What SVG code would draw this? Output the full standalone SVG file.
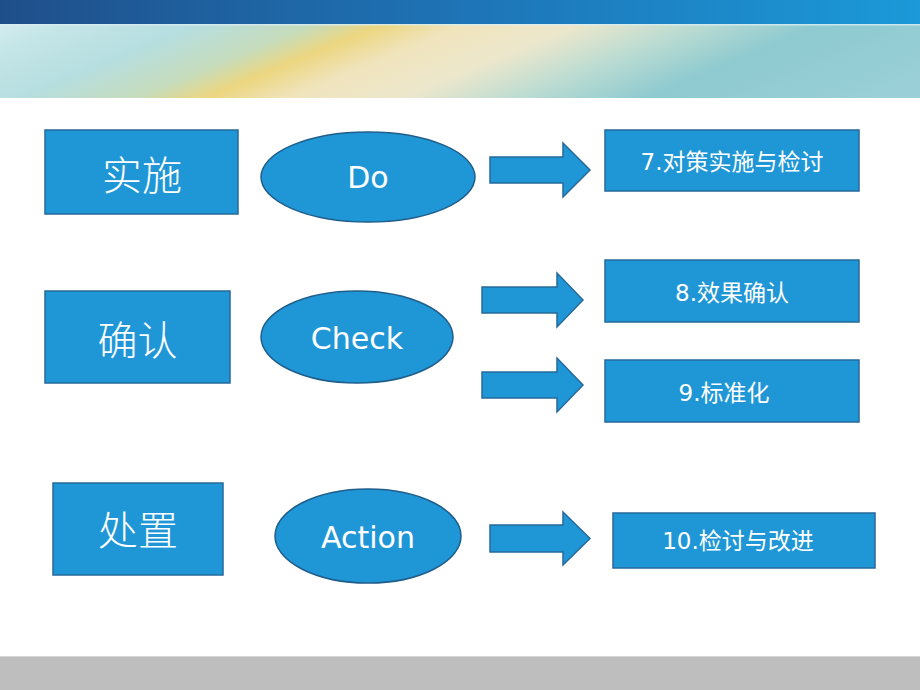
<svg xmlns="http://www.w3.org/2000/svg" width="920" height="690" viewBox="0 0 920 690">
  <defs>
    <linearGradient id="topBar" x1="0" y1="0" x2="1" y2="0">
      <stop offset="0" stop-color="#1f4f8a"/>
      <stop offset="0.5" stop-color="#1e74b6"/>
      <stop offset="1" stop-color="#1b99d8"/>
    </linearGradient>
    <linearGradient id="band" gradientUnits="userSpaceOnUse" x1="0" y1="0" x2="1160" y2="0" gradientTransform="skewX(-67.4)">
      <stop offset="0" stop-color="#e4f4f4"/>
      <stop offset="0.1" stop-color="#c6e6e8"/>
      <stop offset="0.22" stop-color="#b6dee0"/>
      <stop offset="0.32" stop-color="#c6dcbc"/>
      <stop offset="0.38" stop-color="#ecd680"/>
      <stop offset="0.45" stop-color="#f0e4bc"/>
      <stop offset="0.55" stop-color="#ece7cc"/>
      <stop offset="0.65" stop-color="#bcdcd2"/>
      <stop offset="0.76" stop-color="#8ecad0"/>
      <stop offset="1" stop-color="#9cd0d8"/>
    </linearGradient>
    <style>
      .box { fill: #1f97d7; stroke: #26699a; stroke-width: 1.5; }
      .ell { fill: #1f97d7; stroke: #1f5d8a; stroke-width: 1.5; }
      .arrow { fill: #1f97d7; stroke: #26699a; stroke-width: 1.5; stroke-linejoin: miter; }
      .big { font-family: "Noto Sans CJK SC", sans-serif; font-weight: 300; font-size: 40px; fill: #ffffff; text-anchor: middle; dominant-baseline: central; }
      .lat { font-family: "DejaVu Sans", "Noto Sans CJK SC", sans-serif; font-size: 30px; fill: #ffffff; text-anchor: middle; }
      .sm { font-family: "DejaVu Sans", "Noto Sans CJK SC", sans-serif; font-size: 23px; fill: #ffffff; text-anchor: middle; dominant-baseline: central; }
    </style>
  </defs>

  <rect x="0" y="0" width="920" height="690" fill="#ffffff"/>
  <rect x="0" y="0" width="920" height="24" fill="url(#topBar)"/>
  <rect x="0" y="24" width="920" height="74" fill="url(#band)"/>
  <rect x="0" y="24" width="920" height="1.5" fill="#d8eef2" opacity="0.8"/>
  <rect x="0" y="656" width="920" height="1.5" fill="#d6d6d6"/>
  <rect x="0" y="657" width="920" height="33" fill="#bebebe"/>

  <g id="connectors">
    <polygon class="arrow" points="490,157 563,157 563,143 590,170 563,197 563,183 490,183"/>
    <polygon class="arrow" points="482,287 557,287 557,273 583,300 557,327 557,313 482,313"/>
    <polygon class="arrow" points="482,372 557,372 557,358 583,385 557,412 557,398 482,398"/>
    <polygon class="arrow" points="490,525 563,525 563,512 590,538.5 563,565 563,552 490,552"/>
  </g>

  <g id="n-shishi">
    <rect class="box" x="45" y="130" width="193" height="84"/>
    <text class="big" x="142" y="173">实施</text>
  </g>
  <g id="n-do">
    <ellipse class="ell" cx="368" cy="177" rx="107" ry="45"/>
    <text class="lat" x="368" y="188">Do</text>
  </g>
  <g id="n-7">
    <rect class="box" x="605" y="130" width="254" height="61"/>
    <text class="sm" x="732" y="162">7.对策实施与检讨</text>
  </g>

  <g id="n-queren">
    <rect class="box" x="45" y="291" width="185" height="92"/>
    <text class="big" x="137.5" y="338">确认</text>
  </g>
  <g id="n-check">
    <ellipse class="ell" cx="357" cy="337" rx="96" ry="46"/>
    <text class="lat" x="357" y="349">Check</text>
  </g>
  <g id="n-8">
    <rect class="box" x="605" y="260" width="254" height="62"/>
    <text class="sm" x="732" y="293">8.效果确认</text>
  </g>
  <g id="n-9">
    <rect class="box" x="605" y="360" width="254" height="62"/>
    <text class="sm" x="724" y="393">9.标准化</text>
  </g>

  <g id="n-chuzhi">
    <rect class="box" x="53" y="483" width="170" height="92"/>
    <text class="big" x="138" y="528">处置</text>
  </g>
  <g id="n-action">
    <ellipse class="ell" cx="368" cy="536" rx="93" ry="47"/>
    <text class="lat" x="368" y="548">Action</text>
  </g>
  <g id="n-10">
    <rect class="box" x="613" y="513" width="262" height="55"/>
    <text class="sm" x="738" y="541">10.检讨与改进</text>
  </g>
</svg>
